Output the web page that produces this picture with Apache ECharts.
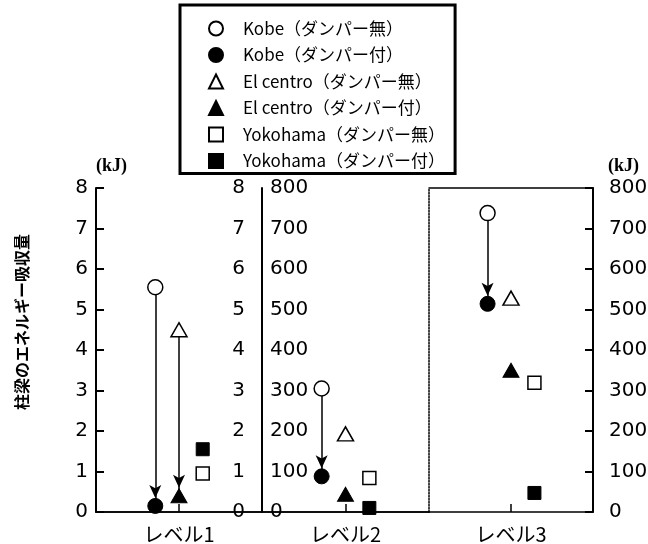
<!DOCTYPE html>
<html>
<head>
<meta charset="utf-8">
<script src="https://cdn.jsdelivr.net/npm/echarts@6/dist/echarts.min.js"></script>
<style>
  html, body { margin: 0; padding: 0; background: #fff; }
  #chart { width: 648px; height: 544px; }
</style>
</head>
<body>
<div id="chart"></div>
<script>
// データ
const levels = ['レベル1', 'レベル2', 'レベル3'];
const quakes = ['Kobe', 'El centro', 'Yokohama'];
const slots = ['p1', 'p2', 'Kobe', 'El centro', 'Yokohama', 'p3', 'p4'];
const legendNames = [
  'Kobe（ダンパー無）', 'Kobe（ダンパー付）',
  'El centro（ダンパー無）', 'El centro（ダンパー付）',
  'Yokohama（ダンパー無）', 'Yokohama（ダンパー付）'
];
// 各レベルの吸収量 [Kobe, El centro, Yokohama]
const noDamper = [[5.55, 4.5, 0.95], [305, 193, 84], [738, 528, 319]];
const withDamper = [[0.15, 0.4, 1.55], [88, 44, 10], [514, 350, 47]];
const arrowQuakes = [['Kobe', 'El centro'], ['Kobe'], ['Kobe']];

const chart = echarts.init(document.getElementById('chart'));
const FONT = 'DejaVu Sans';
const JP = 'Noto Sans CJK JP';
const symbols = ['circle', 'triangle', 'rect'];
const symbolSizes = [15, [16, 14], 13];

const grids = [
  { left: 96, top: 188, width: 166, height: 324, outerBoundsMode: 'none' },
  { left: 262, top: 188, width: 167, height: 324, outerBoundsMode: 'none' },
  { left: 429, top: 188, width: 164, height: 324, outerBoundsMode: 'none' }
];
const yIdx = [0, 2, 4];
const black = { color: '#000', width: 2 };

const xAxis = [];
levels.forEach((lv, g) => {
  xAxis.push({
    type: 'category', gridIndex: g, data: slots, boundaryGap: true,
    axisLine: { show: true, lineStyle: { color: '#000', width: 1.5 } },
    axisTick: { show: true, inside: true, length: 8, alignWithLabel: true,
      interval: (i) => i === 3, lineStyle: { color: '#000', width: 1.5 } },
    axisLabel: { show: false },
    name: lv, nameLocation: 'middle', nameGap: 12,
    nameTextStyle: { fontFamily: JP, fontSize: 20, color: '#000' }
  });
});
levels.forEach((lv, g) => {
  xAxis.push({
    type: 'category', gridIndex: g, data: slots, position: 'top',
    axisLine: { show: true, lineStyle: { color: '#000', width: 1.5 } },
    axisTick: { show: false }, axisLabel: { show: false }
  });
});

const labelStyle = { fontFamily: FONT, fontSize: 20, color: '#000' };
const kjName = { fontFamily: 'Liberation Serif', fontWeight: 'bold', fontSize: 18, color: '#000' };

const yAxis = [
  {
    type: 'value', gridIndex: 0, position: 'left', min: 0, max: 8, interval: 1,
    name: '(kJ)', nameLocation: 'end', nameGap: 13,
    nameTextStyle: Object.assign({ align: 'left' }, kjName),
    axisLine: { show: true, lineStyle: black },
    axisTick: { show: true, inside: true, length: 8, lineStyle: black },
    axisLabel: Object.assign({ margin: 8 }, labelStyle),
    splitLine: { show: false }
  },
  {
    type: 'value', gridIndex: 0, position: 'right', min: 0, max: 8, interval: 1,
    axisLine: { show: false }, axisTick: { show: false },
    axisLabel: Object.assign({ inside: true, margin: 17 }, labelStyle),
    splitLine: { show: false }
  },
  {
    type: 'value', gridIndex: 1, position: 'left', min: 0, max: 800, interval: 100,
    axisLine: { show: true, lineStyle: black }, axisTick: { show: false },
    axisLabel: Object.assign({ inside: true, margin: 8, padding: [10, 0, 0, 0] }, labelStyle),
    splitLine: { show: false }
  },
  {
    type: 'value', gridIndex: 1, position: 'right', min: 0, max: 800, interval: 100,
    axisLine: { show: true, lineStyle: { color: '#000', width: 1.5, type: 'dotted' } },
    axisTick: { show: false }, axisLabel: { show: false }, splitLine: { show: false }
  },
  {
    type: 'value', gridIndex: 2, position: 'right', min: 0, max: 800, interval: 100,
    name: '(kJ)', nameLocation: 'end', nameGap: 13,
    nameTextStyle: Object.assign({ align: 'left', padding: [0, 0, 0, 15] }, kjName),
    axisLine: { show: true, lineStyle: black },
    axisTick: { show: true, inside: true, length: 8, lineStyle: black },
    axisLabel: Object.assign({ margin: 16 }, labelStyle),
    splitLine: { show: false }
  }
];

const series = [];
levels.forEach((lv, g) => {
  // 矢印（ダンパー無 → ダンパー付）
  series.push({
    type: 'line', xAxisIndex: g, yAxisIndex: yIdx[g], data: [], z: 1,
    silent: true,
    markLine: {
      silent: true, animation: false, z: 1,
      symbol: ['none', 'arrow'], symbolSize: [9, 13], symbolOffset: [0, [0, 8]],
      label: { show: false },
      lineStyle: { color: '#000', width: 1.5, type: 'solid' },
      data: arrowQuakes[g].map((q) => {
        const k = quakes.indexOf(q);
        return [{ coord: [q, noDamper[g][k]] }, { coord: [q, withDamper[g][k]] }];
      })
    }
  });
  quakes.forEach((q, k) => {
    series.push({
      name: legendNames[k * 2], type: 'scatter', xAxisIndex: g, yAxisIndex: yIdx[g], z: 5,
      symbol: symbols[k], symbolSize: symbolSizes[k],
      itemStyle: { color: '#fff', borderColor: '#000', borderWidth: 1.5, opacity: 1 },
      data: [[q, noDamper[g][k]]]
    });
    series.push({
      name: legendNames[k * 2 + 1], type: 'scatter', xAxisIndex: g, yAxisIndex: yIdx[g], z: 5,
      symbol: symbols[k], symbolSize: symbolSizes[k],
      itemStyle: { color: '#000', borderColor: '#000', borderWidth: 1, opacity: 1 },
      data: [[q, withDamper[g][k]]]
    });
  });
});

chart.setOption({
  animation: false,
  backgroundColor: '#fff',
  grid: grids,
  xAxis: xAxis,
  yAxis: yAxis,
  legend: {
    data: legendNames, orient: 'vertical', left: 180, top: 5,
    padding: [15, 10, 4, 28], itemGap: 9.5, itemWidth: 14, itemHeight: 14,
    borderColor: '#000', borderWidth: 3, backgroundColor: '#fff',
    selectedMode: false,
    textStyle: { fontFamily: JP, fontSize: 17, lineHeight: 17, color: '#000', padding: [0, 0, 0, 15] }
  },
  graphic: [{
    type: 'text', x: 22, y: 322, rotation: Math.PI / 2,
    style: { text: '柱梁のエネルギー吸収量', font: 'bold 16px "Noto Sans CJK JP"',
      fill: '#000', align: 'center', verticalAlign: 'middle' }
  }],
  series: series
});
</script>
</body>
</html>
